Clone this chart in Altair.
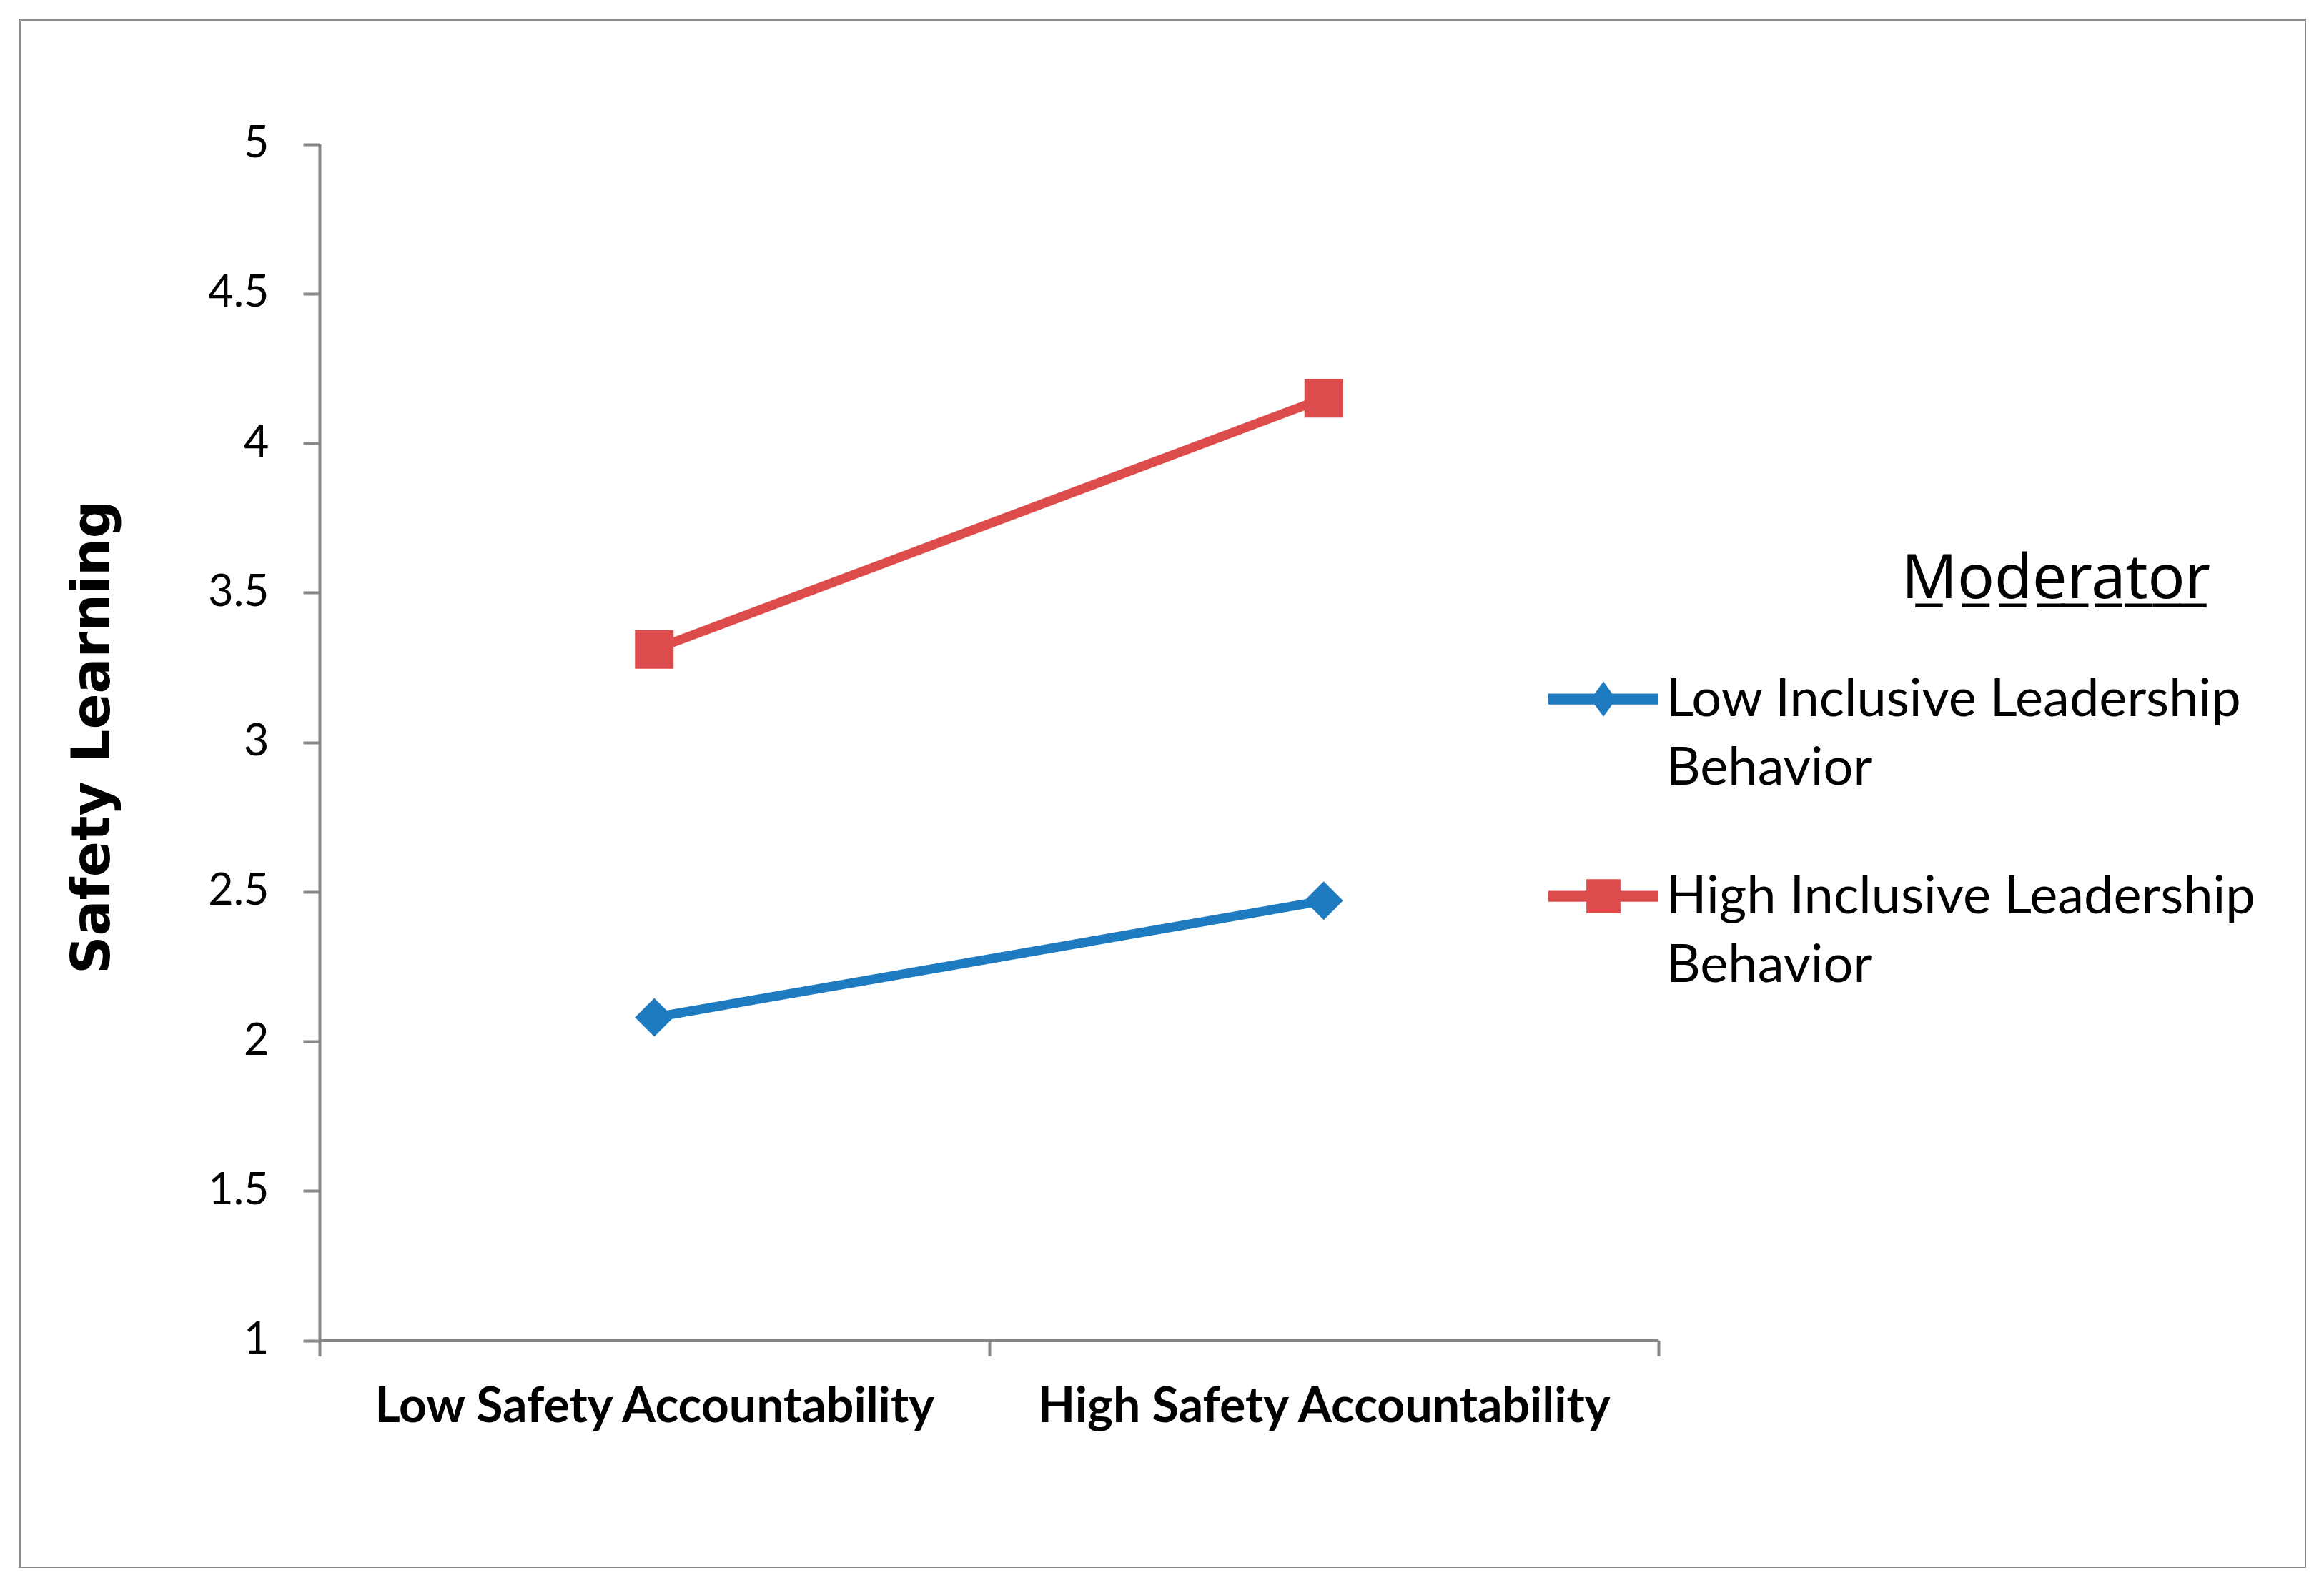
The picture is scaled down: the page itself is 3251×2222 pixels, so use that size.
import altair as alt
import pandas as pd

# ---- data ----
categories = ["Low Safety Accountability", "High Safety Accountability"]
cat_pos = [0.5, 1.5]
series = ["Low Inclusive Leadership Behavior", "High Inclusive Leadership Behavior"]
low_il_values = [2.08, 2.47]
high_il_values = [3.31, 4.15]
y_ticks = [1, 1.5, 2, 2.5, 3, 3.5, 4, 4.5, 5]
x_ticks = [0, 1, 2]
colors = ["#1f7bc0", "#dd4c4c"]

rows = []
for s, vals in zip(series, [low_il_values, high_il_values]):
    for c, p, v in zip(categories, cat_pos, vals):
        rows.append({"series": s, "category": c, "pos": p, "value": v})
df = pd.DataFrame(rows)

AXIS_GRAY = "#868686"
X_OFF = -318.5
Y_OFF = -419

x_scale = alt.Scale(domain=[0, 2], range=[419, 2292], nice=False, zero=False)
y_scale = alt.Scale(domain=[1, 5], range=[1847.5, 173.5], nice=False, zero=False)
color_scale = alt.Scale(domain=series, range=colors)

y_axis = alt.Axis(
    values=y_ticks, format="~g", grid=False, offset=Y_OFF, orient="left",
    domainColor=AXIS_GRAY, domainWidth=4, tickColor=AXIS_GRAY, tickWidth=4,
    tickSize=23, labelPadding=48, labelFont="Lato", labelFontSize=61,
    labelColor="#000000", labelBaseline="middle",
    title="Safety Learning", titleFont="DejaVu Sans", titleFontSize=74,
    titleFontWeight="bold", titleColor="#000000", titleAngle=270,
    titleAlign="center", titleBaseline="middle", titleX=-317, titleY=1003,
    titleLimit=3000,
)
y_enc = alt.Y("value:Q", scale=y_scale, axis=y_axis)

tick_axis = alt.Axis(
    values=x_ticks, labels=False, grid=False, offset=X_OFF, orient="bottom",
    domainColor=AXIS_GRAY, domainWidth=4, tickColor=AXIS_GRAY, tickWidth=4,
    tickSize=22, title=None,
)
label_expr = " : ".join(
    [f"datum.value == {p} ? '{c}'" for p, c in zip(cat_pos[:-1], categories[:-1])]
    + [f"'{categories[-1]}'"]
)
label_axis = alt.Axis(
    values=cat_pos, labelExpr=label_expr, ticks=False, tickSize=0, domain=False,
    grid=False, offset=X_OFF, orient="bottom", labelPadding=60, labelFont="Lato",
    labelFontSize=68, labelFontWeight="bold", labelColor="#000000",
    labelBaseline="top", labelLimit=3000, title=None,
)

base = alt.Chart(df)

lines = base.mark_line(strokeWidth=13).encode(
    x=alt.X("pos:Q", scale=x_scale, axis=tick_axis),
    y=y_enc,
    color=alt.Color("series:N", scale=color_scale, legend=None),
    detail="series:N",
)

points = base.mark_point(filled=True, size=2916, opacity=1).encode(
    x=alt.X("pos:Q", scale=x_scale, axis=label_axis),
    y=y_enc,
    color=alt.Color("series:N", scale=color_scale, legend=None),
    shape=alt.Shape("series:N", scale=alt.Scale(domain=series, range=["diamond", "square"]), legend=None),
)

# legend symbols: line + marker, all filled
d = -0.31
line_part = f"M-1,{-0.1+d}L1,{-0.1+d}L1,{0.1+d}L-1,{0.1+d}Z"
diamond_sym = line_part + f"M0,{-0.32+d}L0.23,{d}L0,{0.32+d}L-0.23,{d}Z"
square_sym = line_part + f"M-0.31,{-0.31+d}L0.31,{-0.31+d}L0.31,{0.31+d}L-0.31,{0.31+d}Z"

split_expr = "[slice(datum.label, 0, lastindexof(datum.label, ' ')), slice(datum.label, lastindexof(datum.label, ' ') + 1)]"
legend = alt.Legend(
    title="M\u0332o\u0332d\u0332e\u0332r\u0332a\u0332t\u0332o\u0332r\u0332",
    orient="none", legendX=2138, legendY=741, padding=0,
    titleFont="Noto Sans", titleFontSize=86, titleFontWeight="normal",
    titleColor="#000000", titleAnchor="middle", titleAlign="left",
    titlePadding=70, titleLimit=3000,
    labelFont="Lato", labelFontSize=74, labelColor="#000000",
    labelBaseline="alphabetic", labelLimit=3000, labelOffset=11,
    labelExpr=split_expr, symbolSize=23716, symbolOpacity=1,
    symbolStrokeWidth=0, rowPadding=88,
)

legend_layer = base.mark_point(filled=True, opacity=0, size=10).encode(
    x=alt.X("pos:Q", scale=x_scale, axis=None),
    y=y_enc,
    color=alt.Color("series:N", scale=color_scale, legend=legend),
    shape=alt.Shape("series:N", scale=alt.Scale(domain=series, range=[diamond_sym, square_sym]), legend=legend),
)

chart = (
    alt.layer(lines, points, legend_layer)
    .resolve_scale(shape="independent", color="independent")
    .resolve_axis(x="independent")
    .properties(
        width=3198, height=2166,
        autosize=alt.AutoSizeParams(type="none"),
        padding={"left": 20, "top": 20, "right": 0, "bottom": 0},
        background="white",
    )
    .configure(
        style={"guide-label": {"lineHeight": 96}},
        view=alt.ViewConfig(stroke="#8c8c8c", strokeWidth=4, fill="white", strokeOpacity=1),
    )
)

chart.save("out.html", embed_options={"renderer": "svg", "actions": False})
